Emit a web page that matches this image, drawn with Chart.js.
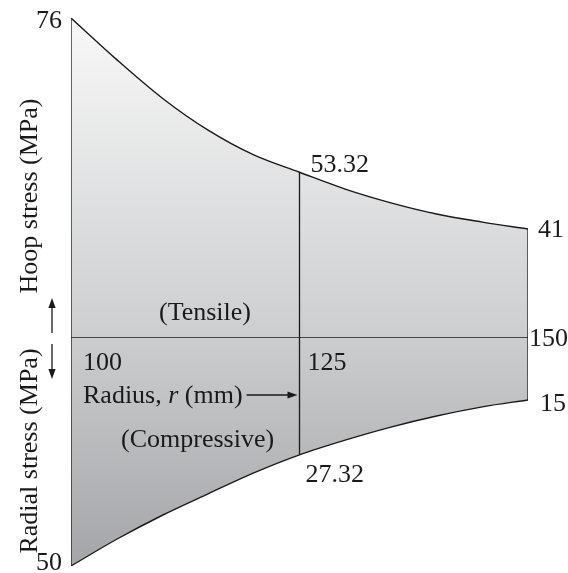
<!DOCTYPE html>
<html>
<head>
<meta charset="utf-8">
<title>Stresses in a thick-walled cylinder</title>
<script src="https://cdn.jsdelivr.net/npm/chart.js@4.4.1/dist/chart.umd.min.js"></script>
<style>
  html, body { margin: 0; padding: 0; background: #ffffff; }
  canvas { display: block; }
</style>
</head>
<body>
<canvas id="stress" width="568" height="573"></canvas>
<script>
// Radii across the wall, mm
const radius = [100, 105, 110, 115, 120, 125, 130, 135, 140, 145, 150];
// Hoop (tensile) stress, MPa
const hoopStress = [76, 70.9, 65.6, 60.7, 56.5, 53.32, 50.0, 47.1, 44.6, 42.7, 41];
// Radial (compressive) stress magnitude, MPa
const radialStress = [50, 44.8, 40.0, 35.6, 31.2, 27.32, 24.1, 21.2, 18.7, 16.6, 15];
// Radii with a drawn section line and a tick label
const markedRadii = [100, 125, 150];
const radiusTickLabels = ['100', '125', '150'];

const inkColor = '#1a1a1a';
const serif = '"Liberation Serif", "Times New Roman", serif';
const labelFont = '26px ' + serif;
const italicFont = 'italic 26px ' + serif;

// Linear scale with an exponential stretch: values near the top of the
// range are spread further apart, the way the diagram is sketched.
const { LinearScale } = Chart;
class StretchedScale extends LinearScale {
  static id = 'stretched';
  _stretch() {
    return (this.options.curvature || 0) * (this.max - this.min);
  }
  getPixelForValue(value) {
    const t = (value - this.min) / (this.max - this.min);
    const k = this._stretch();
    const d = k ? Math.expm1(k * t) / Math.expm1(k) : t;
    return this.getPixelForDecimal(d);
  }
  getValueForPixel(pixel) {
    const d = this.getDecimalForPixel(pixel);
    const k = this._stretch();
    const t = k ? Math.log1p(d * Math.expm1(k)) / k : d;
    return this.min + t * (this.max - this.min);
  }
}
Chart.register(StretchedScale);

function shadeFill(context) {
  const { chart } = context;
  const area = chart.chartArea;
  if (!area) return null;
  const g = chart.ctx.createLinearGradient(0, area.top, 0, area.bottom);
  g.addColorStop(0, '#f8f8f8');
  g.addColorStop(0.55, '#cfd0d2');
  g.addColorStop(1, '#a4a5a8');
  return g;
}

const toPoints = values => radius.map((r, i) => ({ x: r, y: values[i] }));
const valueAt = (values, r) => values[radius.indexOf(r)];

const outline = { borderColor: inkColor, borderWidth: 1.3, pointRadius: 0, fill: false, order: 1 };

const sectionSets = [];
markedRadii.forEach(r => {
  sectionSets.push({ ...outline, yAxisID: 'yHoop', data: [{ x: r, y: valueAt(hoopStress, r) }, { x: r, y: 0 }] });
  sectionSets.push({ ...outline, yAxisID: 'yRad', data: [{ x: r, y: 0 }, { x: r, y: valueAt(radialStress, r) }] });
});
// radius axis line (zero stress)
sectionSets.push({ ...outline, yAxisID: 'yHoop',
  data: [{ x: radius[0], y: 0 }, { x: radius[radius.length - 1], y: 0 }] });

function drawArrow(ctx, x1, y1, x2, y2) {
  const ang = Math.atan2(y2 - y1, x2 - x1);
  const len = 10, half = 3.6;
  ctx.beginPath();
  ctx.moveTo(x1, y1);
  ctx.lineTo(x2 - Math.cos(ang) * len * 0.8, y2 - Math.sin(ang) * len * 0.8);
  ctx.lineWidth = 1.3;
  ctx.stroke();
  ctx.beginPath();
  ctx.moveTo(x2, y2);
  ctx.lineTo(x2 - Math.cos(ang) * len - Math.sin(ang) * half, y2 - Math.sin(ang) * len + Math.cos(ang) * half);
  ctx.lineTo(x2 - Math.cos(ang) * len + Math.sin(ang) * half, y2 - Math.sin(ang) * len - Math.cos(ang) * half);
  ctx.closePath();
  ctx.fill();
}

function verticalText(ctx, text, x, cy) {
  ctx.save();
  ctx.translate(x, cy);
  ctx.rotate(-Math.PI / 2);
  ctx.textAlign = 'center';
  ctx.fillText(text, 0, 0);
  ctx.restore();
}

// placement of the value labels at the three marked sections
const hoopLabelPlace = [
  { align: 'right', dx: -9, dy: 10 },
  { align: 'left', dx: 11, dy: 0 },
  { align: 'left', dx: 10, dy: 8 }
];
const radialLabelPlace = [
  { align: 'right', dx: -9, dy: 4 },
  { align: 'left', dx: 6, dy: 27 },
  { align: 'left', dx: 12, dy: 11 }
];
const tickPlace = [
  { dx: 12, dy: 32 },
  { dx: 8, dy: 32 },
  { dx: 1, dy: 8 }
];

const annotations = {
  id: 'annotations',
  afterDraw(chart) {
    const { ctx } = chart;
    const xs = chart.scales.x, yH = chart.scales.yHoop, yR = chart.scales.yRad;
    const axisY = yH.getPixelForValue(0);
    ctx.save();
    ctx.fillStyle = inkColor;
    ctx.strokeStyle = inkColor;
    ctx.font = labelFont;
    ctx.textBaseline = 'alphabetic';

    markedRadii.forEach((r, i) => {
      const px = xs.getPixelForValue(r);
      const hv = valueAt(hoopStress, r), rv = valueAt(radialStress, r);
      let p = hoopLabelPlace[i];
      ctx.textAlign = p.align;
      ctx.fillText(String(hv), px + p.dx, yH.getPixelForValue(hv) + p.dy);
      p = radialLabelPlace[i];
      ctx.textAlign = p.align;
      ctx.fillText(String(rv), px + p.dx, yR.getPixelForValue(rv) + p.dy);
      p = tickPlace[i];
      ctx.textAlign = 'left';
      ctx.fillText(radiusTickLabels[i], px + p.dx, axisY + p.dy);
    });

    // region notes
    ctx.textAlign = 'center';
    ctx.fillText('(Tensile)', 205, 320);
    ctx.textAlign = 'left';
    ctx.fillText('(Compressive)', 121, 447);

    // radius axis caption with arrow
    let cx = 83;
    const capY = 403;
    ctx.fillText('Radius, ', cx, capY);
    cx += ctx.measureText('Radius, ').width;
    ctx.font = italicFont;
    ctx.fillText('r', cx, capY);
    cx += ctx.measureText('r').width;
    ctx.font = labelFont;
    ctx.fillText(' (mm)', cx, capY);
    cx += ctx.measureText(' (mm)').width;
    drawArrow(ctx, cx + 4, 395, xs.getPixelForValue(125) - 2, 395);

    // stress axis titles
    verticalText(ctx, 'Hoop stress (MPa)', 37, 196);
    verticalText(ctx, 'Radial stress (MPa)', 37, 451);
    drawArrow(ctx, 52, 333, 52, 298);
    drawArrow(ctx, 52, 344, 52, 379);
    ctx.restore();
  }
};

new Chart(document.getElementById('stress'), {
  type: 'line',
  data: {
    datasets: [
      {
        label: 'Hoop stress',
        yAxisID: 'yHoop',
        data: toPoints(hoopStress),
        borderColor: inkColor,
        borderWidth: 1.4,
        pointRadius: 0,
        cubicInterpolationMode: 'monotone',
        fill: 'origin',
        backgroundColor: shadeFill,
        order: 2
      },
      {
        label: 'Radial stress',
        yAxisID: 'yRad',
        data: toPoints(radialStress),
        borderColor: inkColor,
        borderWidth: 1.4,
        pointRadius: 0,
        cubicInterpolationMode: 'monotone',
        fill: 'origin',
        backgroundColor: shadeFill,
        order: 2
      },
      ...sectionSets
    ]
  },
  options: {
    responsive: false,
    animation: false,
    events: [],
    layout: { padding: { left: 71, right: 40, top: 18, bottom: 7 } },
    scales: {
      x: { type: 'linear', min: 100, max: 150, display: false },
      yHoop: {
        type: 'stretched', curvature: 0.0218, min: 0, max: 76,
        position: 'left', stack: 'stress', stackWeight: 320, weight: 1, display: false
      },
      yRad: {
        type: 'stretched', curvature: 0.0055, min: 0, max: 50, reverse: true,
        position: 'left', stack: 'stress', stackWeight: 228, weight: 0, display: false
      }
    },
    plugins: {
      legend: { display: false },
      tooltip: { enabled: false },
      title: { display: false },
      filler: { drawTime: 'beforeDatasetsDraw' }
    }
  },
  plugins: [annotations]
});
</script>
</body>
</html>
